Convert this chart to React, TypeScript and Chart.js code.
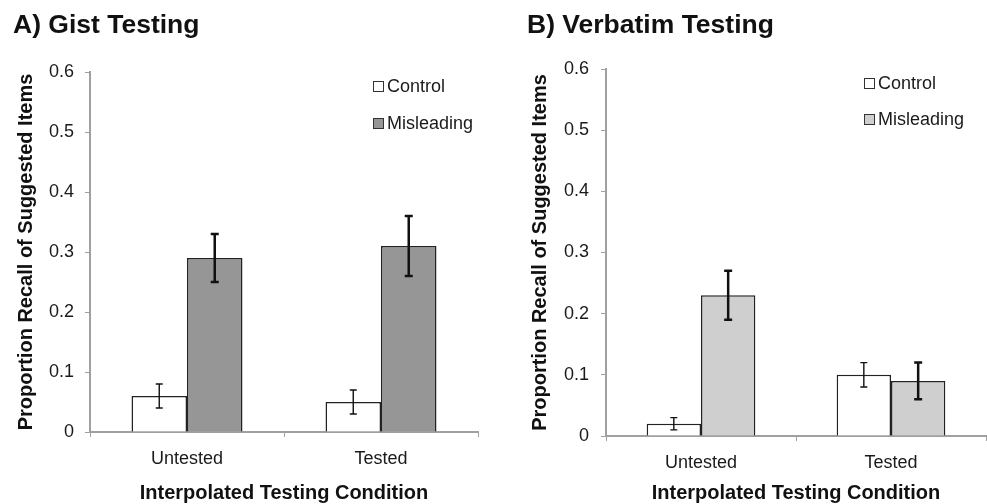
import React, { useEffect, useRef } from "react";
import { Chart, registerables } from "chart.js";

Chart.register(...registerables);

// ---- data ----
const categories = ["Untested", "Tested"];
const seriesNames = ["Control", "Misleading"];
const yTickLabels = ["0", "0.1", "0.2", "0.3", "0.4", "0.5", "0.6"];

const gistControl = [0.06, 0.05];
const gistControlErr = [0.02, 0.02];
const gistMisleading = [0.29, 0.31];
const gistMisleadingErr = [0.04, 0.05];

const verbatimControl = [0.02, 0.1];
const verbatimControlErr = [0.01, 0.02];
const verbatimMisleading = [0.23, 0.09];
const verbatimMisleadingErr = [0.04, 0.03];

const FONT = "'Liberation Sans', Arial, Helvetica, sans-serif";
const AXIS = "#a0a0a0";
const TEXT = "#1a1a1a";

const errorBarPlugin = {
  id: "errorBars",
  afterDatasetsDraw(chart: any) {
    const ctx = chart.ctx;
    const yScale = chart.scales.y;
    chart.data.datasets.forEach((ds: any, di: number) => {
      const meta = chart.getDatasetMeta(di);
      meta.data.forEach((el: any, i: number) => {
        const v = ds.data[i];
        const e = ds.errors[i];
        const top = yScale.getPixelForValue(v + e);
        const bot = yScale.getPixelForValue(v - e);
        const x = el.x;
        const cap = ds.capHalf;
        ctx.save();
        ctx.strokeStyle = "#111";
        ctx.lineWidth = ds.errorWidth;
        ctx.beginPath();
        ctx.moveTo(x, top);
        ctx.lineTo(x, bot);
        ctx.moveTo(x - cap, top);
        ctx.lineTo(x + cap, top);
        ctx.moveTo(x - cap, bot);
        ctx.lineTo(x + cap, bot);
        ctx.stroke();
        ctx.restore();
      });
    });
  },
};

const insideLegendPlugin = {
  id: "insideLegend",
  afterDraw(chart: any, _args: any, opts: any) {
    const ctx = chart.ctx;
    ctx.save();
    chart.data.datasets.forEach((ds: any, di: number) => {
      const cy = opts.y + di * opts.gap;
      ctx.fillStyle = ds.backgroundColor;
      ctx.fillRect(opts.x + 0.5, cy - 5, 10, 10);
      ctx.strokeStyle = "#333";
      ctx.lineWidth = 1;
      ctx.strokeRect(opts.x + 0.5, cy - 5 + 0.5, 10, 10);
      ctx.fillStyle = TEXT;
      ctx.font = `18px ${FONT}`;
      ctx.textBaseline = "middle";
      ctx.textAlign = "left";
      ctx.fillText(ds.label, opts.x + 14, cy + 1);
    });
    ctx.restore();
  },
};

type PanelProps = {
  title: string;
  control: number[];
  controlErr: number[];
  misleading: number[];
  misleadingErr: number[];
  misleadingColor: string;
  width: number;
  height: number;
  padLeft: number;
  padRight: number;
  yAxisWidth: number;
  xAxisHeight: number;
  titleTop: number;
  titleBottom: number;
  yTitlePad: number;
  yTickPad: number;
  legendX: number;
  legendY: number;
  legendGap: number;
};

function Panel(p: PanelProps) {
  const ref = useRef<HTMLCanvasElement>(null);
  useEffect(() => {
    if (!ref.current) return;
    const chart = new Chart(ref.current, {
      type: "bar",
      data: {
        labels: categories,
        datasets: [
          {
            label: seriesNames[0],
            data: p.control,
            errors: p.controlErr,
            errorWidth: 1.4,
            capHalf: 3.5,
            backgroundColor: "#ffffff",
            borderColor: "#222222",
            borderWidth: 1.5,
            categoryPercentage: 0.572,
            barPercentage: 1,
          } as any,
          {
            label: seriesNames[1],
            data: p.misleading,
            errors: p.misleadingErr,
            errorWidth: 2.5,
            capHalf: 4,
            backgroundColor: p.misleadingColor,
            borderColor: "#222222",
            borderWidth: 1.5,
            categoryPercentage: 0.572,
            barPercentage: 1,
          } as any,
        ],
      },
      options: {
        responsive: false,
        animation: false,
        devicePixelRatio: 1,
        events: [],
        layout: { padding: { left: p.padLeft, right: p.padRight, top: 0, bottom: 0 } },
        plugins: {
          legend: { display: false },
          tooltip: { enabled: false },
          title: {
            display: true,
            text: p.title,
            align: "start",
            color: "#111",
            font: { family: FONT, size: 26.5, weight: "bold", lineHeight: 1.2 },
            padding: { top: p.titleTop, bottom: p.titleBottom },
          },
          insideLegend: { x: p.legendX, y: p.legendY, gap: p.legendGap },
        } as any,
        scales: {
          x: {
            afterFit: (s: any) => {
              s.height = p.xAxisHeight;
            },
            grid: {
              display: true,
              offset: true,
              drawOnChartArea: false,
              drawTicks: true,
              tickLength: 5,
              color: AXIS,
              lineWidth: 1,
            },
            border: { display: true, color: AXIS, width: 2 },
            ticks: {
              color: TEXT,
              padding: 11,
              font: { family: FONT, size: 18 },
            },
            title: {
              display: true,
              text: "Interpolated Testing Condition",
              color: "#111",
              font: { family: FONT, size: 20, weight: "bold", lineHeight: 1 },
              padding: { top: 0, bottom: 1 },
            },
          },
          y: {
            min: 0,
            max: 0.6,
            afterFit: (s: any) => {
              s.width = p.yAxisWidth;
            },
            grid: {
              display: true,
              drawOnChartArea: false,
              drawTicks: true,
              tickLength: 5,
              color: AXIS,
              lineWidth: 1,
            },
            border: { display: true, color: AXIS, width: 2 },
            ticks: {
              stepSize: 0.1,
              color: TEXT,
              padding: p.yTickPad,
              font: { family: FONT, size: 18 },
              callback: (_v: any, i: number) => yTickLabels[i],
            },
            title: {
              display: true,
              text: "Proportion Recall of Suggested Items",
              color: "#111",
              font: { family: FONT, size: 20, weight: "bold", lineHeight: 1.2 },
              padding: { top: p.yTitlePad, bottom: 0 },
            },
          },
        },
      },
      plugins: [errorBarPlugin, insideLegendPlugin],
    });
    return () => chart.destroy();
  }, []);
  return <canvas ref={ref} width={p.width} height={p.height} style={{ display: "block" }} />;
}

export default function App() {
  return (
    <div
      style={{
        position: "fixed",
        top: 0,
        left: 0,
        width: 987,
        height: 504,
        background: "#fff",
        overflow: "hidden",
      }}
    >
      <div style={{ position: "absolute", left: 0, top: 0 }}>
        <Panel
          title="A) Gist Testing"
          control={gistControl}
          controlErr={gistControlErr}
          misleading={gistMisleading}
          misleadingErr={gistMisleadingErr}
          misleadingColor="#969696"
          width={490}
          height={504}
          padLeft={13}
          padRight={12}
          yAxisWidth={77}
          xAxisHeight={72}
          titleTop={10}
          titleBottom={30.2}
          yTitlePad={1}
          yTickPad={11}
          legendX={373}
          legendY={86}
          legendGap={37}
        />
      </div>
      <div style={{ position: "absolute", left: 490, top: 0 }}>
        <Panel
          title="B) Verbatim Testing"
          control={verbatimControl}
          controlErr={verbatimControlErr}
          misleading={verbatimMisleading}
          misleadingErr={verbatimMisleadingErr}
          misleadingColor="#cfcfcf"
          width={497}
          height={504}
          padLeft={37}
          padRight={1}
          yAxisWidth={79}
          xAxisHeight={68}
          titleTop={9.5}
          titleBottom={27.7}
          yTitlePad={1.5}
          yTickPad={12}
          legendX={374}
          legendY={83}
          legendGap={36}
        />
      </div>
    </div>
  );
}
